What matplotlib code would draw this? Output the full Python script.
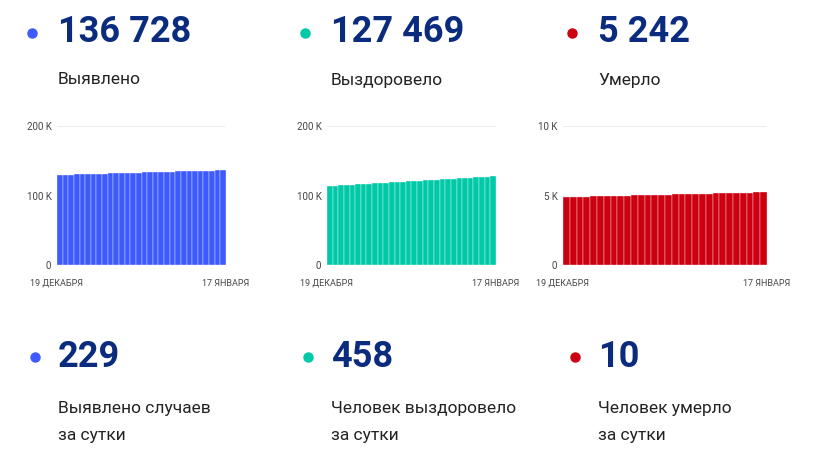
import matplotlib.pyplot as plt
from matplotlib.lines import Line2D

plt.rcParams['font.family'] = 'Roboto'

cases = [129500, 129760, 130010, 130270, 130520, 130780, 131030, 131280, 131530, 131770,
         132010, 132250, 132490, 132730, 132960, 133190, 133420, 133650, 133880, 134110,
         134340, 134570, 134800, 135030, 135260, 135490, 135720, 135950, 136499, 136728]
recovered = [113800, 114300, 114790, 115280, 115760, 116240, 116720, 117200, 117670, 118140,
             118610, 119080, 119550, 120020, 120490, 120960, 121420, 121880, 122340, 122800,
             123260, 123720, 124180, 124640, 125100, 125560, 126020, 126480, 127011, 127469]
deaths = [4890, 4902, 4914, 4926, 4938, 4950, 4962, 4974, 4986, 4998,
          5010, 5022, 5034, 5046, 5058, 5070, 5082, 5094, 5106, 5118,
          5130, 5142, 5154, 5166, 5178, 5190, 5202, 5214, 5232, 5242]

totals = ['136 728', '127 469', '5 242']
total_labels = ['Выявлено', 'Выздоровело', 'Умерло']
daily = ['229', '458', '10']
daily_labels = ['Выявлено случаев\nза сутки', 'Человек выздоровело\nза сутки', 'Человек умерло\nза сутки']
ylims = [200000, 200000, 10000]
yticks = [['0', '100 K', '200 K'], ['0', '100 K', '200 K'], ['0', '5 K', '10 K']]
colors = ['#3d5afe', '#00c9a7', '#cc0010']
navy = '#0b2b7e'

W, H = 820, 461
fig = plt.figure(figsize=(8.2, 4.61), dpi=100)

def fx(x): return x / W
def fy(y): return 1 - y / H

def dot(x, y, c):
    fig.add_artist(Line2D([fx(x)], [fy(y)], marker='o', markersize=6.5, color=c,
                          transform=fig.transFigure))

col_x = [32, 305, 572]
axes_px = [(57, 226), (327, 496), (563, 767)]
series = [cases, recovered, deaths]

for i in range(3):
    x0 = col_x[i]
    dot(x0, 33, colors[i])
    fig.text(fx(x0 + 26), fy(32), totals[i], color=navy, fontsize=26, fontweight='bold', va='center')
    fig.text(fx(x0 + 26), fy(80), total_labels[i], color='#222222', fontsize=12.5, va='center')

    dot(x0 + 3, 357, colors[i])
    fig.text(fx(x0 + 26), fy(357), daily[i], color=navy, fontsize=26, fontweight='bold', va='center')
    fig.text(fx(x0 + 26), fy(408), daily_labels[i].split('\n')[0], color='#222222', fontsize=12.5, va='center')
    fig.text(fx(x0 + 26), fy(435), daily_labels[i].split('\n')[1], color='#222222', fontsize=12.5, va='center')

    l, r = axes_px[i]
    ax = fig.add_axes([fx(l), fy(265), (r - l) / W, 139 / H])
    vals = series[i]
    ax.bar(range(len(vals)), vals, width=1.0, color=colors[i], edgecolor='white', linewidth=0.25)
    ax.set_xlim(-0.5, len(vals) - 0.5)
    ax.set_ylim(0, ylims[i])
    ax.set_yticks([0, ylims[i] / 2, ylims[i]])
    ax.set_yticklabels(yticks[i], fontsize=7, color='#444444')
    ax.tick_params(axis='y', length=0, pad=4)
    ax.set_xticks([])
    for s in ax.spines.values():
        s.set_visible(False)
    ax.grid(axis='y', color='#eeeeee', linewidth=0.8)
    ax.set_axisbelow(True)
    ax.text(0, -0.13, '19 ДЕКАБРЯ', transform=ax.transAxes, ha='center', va='center', fontsize=6.5, color='#444444')
    ax.text(1, -0.13, '17 ЯНВАРЯ', transform=ax.transAxes, ha='center', va='center', fontsize=6.5, color='#444444')

fig.savefig('out.png', dpi=100, facecolor='white')
